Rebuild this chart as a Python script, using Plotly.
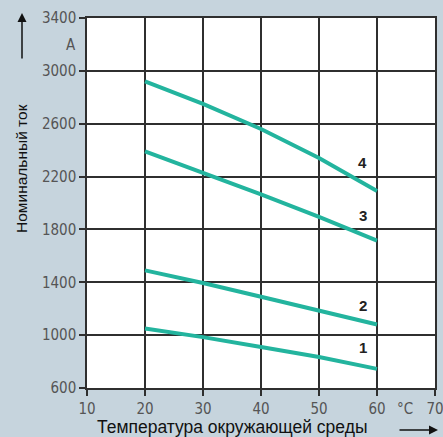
import plotly.graph_objects as go

# Data
temps = [20, 30, 40, 50, 60]
curve_1 = [1050, 985, 910, 835, 745]
curve_2 = [1490, 1395, 1290, 1185, 1080]
curve_3 = [2390, 2230, 2065, 1895, 1715]
curve_4 = [2920, 2750, 2560, 2340, 2090]
curve_names = ["1", "2", "3", "4"]
label_pos_y = [903, 1228, 1909, 2303]
label_pos_x = 57.5
x_ticks = [10, 20, 30, 40, 50, 60, 70]
y_ticks = [600, 1000, 1400, 1800, 2200, 2600, 3000, 3400]

W, H = 443, 437
L, R, T, B = 87, 8, 18, 49
PW, PH = W - L - R, H - T - B

def px(x):
    return (x - L) / PW

def py(y):
    return 1 - (y - T) / PH

BG = "#c6d4dd"
TEAL = "#23b49e"
GRID = "#2f2f2f"
TICKC = "#555555"
TICKFONT = "DejaVu Sans Condensed, Liberation Sans Narrow, Arial Narrow, Liberation Sans, Arial"

fig = go.Figure()
for vals in [curve_1, curve_2, curve_3, curve_4]:
    fig.add_trace(go.Scatter(x=temps, y=vals, mode="lines",
                             line=dict(color=TEAL, width=4), showlegend=False,
                             hoverinfo="skip"))

for name, yv in zip(curve_names, label_pos_y):
    fig.add_annotation(x=label_pos_x, y=yv, text="<b>%s</b>" % name, showarrow=False,
                       xanchor="center", yanchor="middle",
                       font=dict(size=15, color="#222222", family="Liberation Sans, Arial"))

axis_common = dict(showgrid=True, gridcolor=GRID, gridwidth=1.5,
                   showline=True, linecolor=GRID, linewidth=1.5, mirror=True, automargin=False,
                   ticks="outside", ticklen=6, tickcolor=GRID, tickwidth=1.5,
                   ticklabeloverflow="allow",
                   tickfont=dict(size=15, color=TICKC, family=TICKFONT), zeroline=False)

fig.update_layout(
    width=W, height=H,
    margin=dict(l=L, r=R, t=T, b=B, autoexpand=False),
    paper_bgcolor=BG, plot_bgcolor="white",
    xaxis=dict(range=[10, 70], tickvals=x_ticks, **axis_common),
    yaxis=dict(range=[600, 3400], tickvals=y_ticks, **axis_common),
)

# unit labels
fig.add_annotation(xref="paper", yref="paper", x=px(71), y=py(45), text="A", showarrow=False,
                   xanchor="center", yanchor="middle",
                   font=dict(size=15, color=TICKC, family=TICKFONT))
fig.add_annotation(xref="paper", yref="paper", x=px(405), y=py(409), text="°C", showarrow=False,
                   xanchor="center", yanchor="middle",
                   font=dict(size=15, color=TICKC, family=TICKFONT))

# axis titles
fig.add_annotation(xref="paper", yref="paper", x=px(21), y=py(169), text="Номинальный ток",
                   textangle=-90, showarrow=False, xanchor="center", yanchor="middle",
                   font=dict(size=15.5, color="#111111", family="Liberation Sans, Arial"))
fig.add_annotation(xref="paper", yref="paper", x=px(232), y=py(427),
                   text="Температура окружающей среды", showarrow=False,
                   xanchor="center", yanchor="middle",
                   font=dict(size=17.5, color="#111111", family="Liberation Sans, Arial"))

# arrows
fig.add_annotation(xref="paper", yref="paper", x=px(22), y=py(13), ax=0, ay=47,
                   text="", showarrow=True,
                   arrowhead=2, arrowsize=1.2, arrowwidth=1.5, arrowcolor="#111111")
fig.add_annotation(xref="paper", yref="paper", x=px(438), y=py(430), ax=-40, ay=0,
                   text="", showarrow=True,
                   arrowhead=2, arrowsize=1.2, arrowwidth=1.5, arrowcolor="#111111")

fig.write_html("out.html", config={"displayModeBar": False},
               post_script="document.body.style.margin='0';document.body.style.overflow='hidden';")
